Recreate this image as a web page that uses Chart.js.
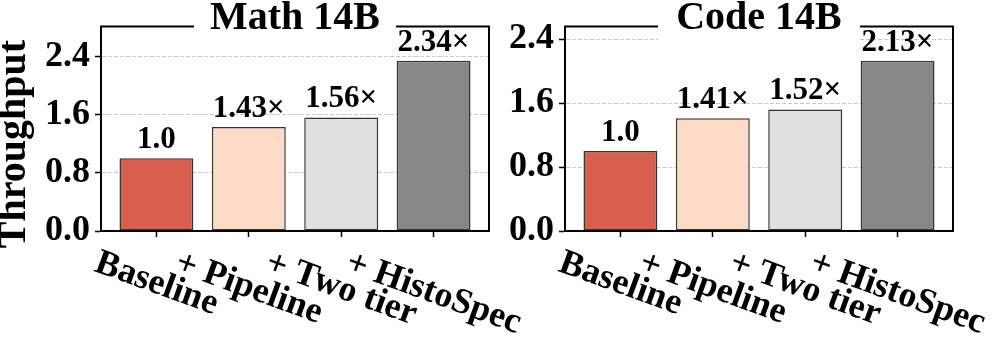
<!DOCTYPE html>
<html>
<head>
<meta charset="utf-8">
<script src="https://cdn.jsdelivr.net/npm/chart.js@4"></script>
<style>
  body { margin: 0; background: #fff; }
  #wrap { position: relative; width: 996px; height: 344px; overflow: hidden; }
  canvas { position: absolute; top: 0; }
</style>
</head>
<body>
<div id="wrap">
  <canvas id="math" width="560" height="344" style="left:0px"></canvas>
  <canvas id="code" width="532" height="344" style="left:464px"></canvas>
</div>
<script>
const categories = ['Baseline', '+ Pipeline', '+ Two tier', '+ HistoSpec'];
const mathValues = [1.0, 1.43, 1.56, 2.34];
const codeValues = [1.0, 1.41, 1.52, 2.13];
const mathLabels = ['1.0', '1.43×', '1.56×', '2.34×'];
const codeLabels = ['1.0', '1.41×', '1.52×', '2.13×'];
const yTicks = [0, 0.8, 1.6, 2.4];
const barColors = ['#d6604d', '#fddbc7', '#e0e0e0', '#878787'];

const family = '"Liberation Serif", serif';

// frame, title box, axis label and rotated category labels
const decor = {
    id: 'decor',
    beforeDatasetsDraw(chart, args, opts) {
        const { ctx, chartArea: a } = chart;
        ctx.save();
        ctx.strokeStyle = '#000';
        ctx.lineWidth = 2;
        ctx.beginPath();
        ctx.moveTo(a.left - 1, a.top);
        ctx.lineTo(a.right, a.top);
        ctx.lineTo(a.right, a.bottom);
        ctx.stroke();

        const cx = (a.left + a.right) / 2;
        ctx.fillStyle = '#fff';
        ctx.fillRect(cx - 101, 0, 202, 55);
        ctx.fillStyle = '#000';
        ctx.font = `bold 40px ${family}`;
        ctx.textAlign = 'center';
        ctx.textBaseline = 'alphabetic';
        ctx.fillText(opts.title, cx, 29);

        if (opts.yTitle) {
            ctx.translate(15, 144);
            ctx.rotate(-Math.PI / 2);
            ctx.font = `bold 40px ${family}`;
            ctx.textBaseline = 'middle';
            ctx.fillText(opts.yTitle, 0, 0);
        }
        ctx.restore();
    },
    afterDatasetsDraw(chart, args, opts) {
        const { ctx } = chart;
        const meta = chart.getDatasetMeta(0);
        ctx.save();
        ctx.fillStyle = '#000';
        ctx.font = `bold 31px ${family}`;
        ctx.textAlign = 'center';
        ctx.textBaseline = 'alphabetic';
        meta.data.forEach((bar, i) => {
            ctx.fillText(opts.barLabels[i], bar.x, bar.y - 10);
        });

        const xs = chart.scales.x;
        const ang = 20 * Math.PI / 180;
        const size = 36;
        ctx.font = `bold ${size}px ${family}`;
        ctx.textBaseline = 'middle';
        categories.forEach((c, i) => {
            const w = ctx.measureText(c).width;
            const bh = w * Math.sin(ang) + size * Math.cos(ang);
            const x = xs.getPixelForValue(i);
            const y = xs.top + 14 + bh / 2;
            ctx.save();
            ctx.translate(x, y);
            ctx.rotate(ang);
            ctx.fillText(c, 0, 0);
            ctx.restore();
        });
        ctx.restore();
    }
};

function makeChart(id, title, values, barLabels, yTitle, padRight) {
    const ctx = document.getElementById(id).getContext('2d');
    return new Chart(ctx, {
        type: 'bar',
        data: {
            datasets: [{
                data: values.map((v, i) => ({ x: i, y: v })),
                backgroundColor: barColors,
                borderColor: '#333',
                borderWidth: 1.5,
                borderSkipped: false,
                barPercentage: 0.8,
                categoryPercentage: 1.0
            }]
        },
        options: {
            responsive: false,
            animation: false,
            devicePixelRatio: 1,
            layout: { padding: { top: 19, right: padRight, bottom: 0, left: 0 } },
            plugins: {
                legend: { display: false },
                tooltip: { enabled: false },
                decor: { title: title, barLabels: barLabels, yTitle: yTitle }
            },
            scales: {
                x: {
                    type: 'linear',
                    min: -0.6,
                    max: 3.6,
                    offset: false,
                    afterBuildTicks: s => { s.ticks = categories.map((c, i) => ({ value: i })); },
                    afterFit: s => { s.height = 113; },
                    ticks: { display: false },
                    grid: { offset: false, drawOnChartArea: false, drawTicks: true, tickLength: 6, tickWidth: 1.5, tickColor: '#000' },
                    border: { display: true, color: '#000', width: 2 }
                },
                y: {
                    min: 0,
                    max: Math.max(...values) * 1.2,
                    afterBuildTicks: s => { s.ticks = yTicks.map(v => ({ value: v })); },
                    afterFit: s => { s.width = 101; },
                    ticks: {
                        font: { family: family, size: 36, weight: 'bold' },
                        color: '#000',
                        padding: 5,
                        callback: v => v.toFixed(1)
                    },
                    grid: {
                        color: c => (c.tick && c.tick.value === 0) ? 'rgba(0,0,0,0)' : '#c8c8c8',
                        lineWidth: 1,
                        tickLength: 6,
                        tickWidth: 1.5,
                        tickColor: '#000'
                    },
                    border: { display: true, color: '#000', width: 2, dash: [4, 2] }
                }
            }
        },
        plugins: [decor]
    });
}

makeChart('math', 'Math 14B', mathValues, mathLabels, 'Throughput', 71);
makeChart('code', 'Code 14B', codeValues, codeLabels, null, 43);
</script>
</body>
</html>
